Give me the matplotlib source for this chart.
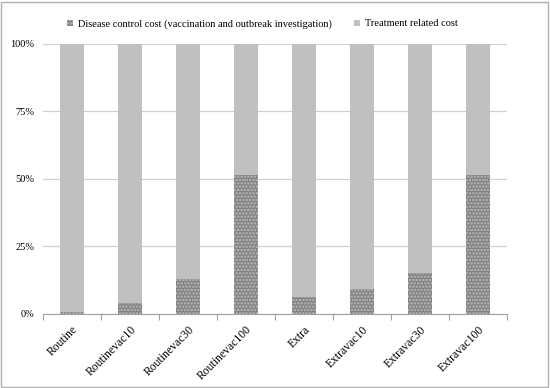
import matplotlib.pyplot as plt
import numpy as np
from matplotlib.patches import Rectangle

plt.rcParams['font.family'] = ['Liberation Serif', 'DejaVu Serif']
plt.rcParams['hatch.linewidth'] = 1.2

scenarios = ['Routine', 'Routinevac10', 'Routinevac30', 'Routinevac100',
             'Extra', 'Extravac10', 'Extravac30', 'Extravac100']
control = [0.8, 4.0, 13.0, 51.5, 6.4, 9.2, 15.1, 51.5]
treatment = [100 - c for c in control]

fig = plt.figure(figsize=(5.5, 3.88), dpi=100)
ax = fig.add_axes([0.078, 0.191, 0.844, 0.696])

x = np.arange(len(scenarios))
ax.bar(x, control, width=0.4, color='#808080', edgecolor='#bdbdbd', hatch='.....',
       linewidth=0, label='Disease control cost (vaccination and outbreak investigation)')
ax.bar(x, treatment, width=0.4, bottom=control, color='#c0c0c0', linewidth=0,
       label='Treatment related cost')

ax.set_xlim(-0.5, len(scenarios) - 0.5)
ax.set_ylim(0, 100)
ax.set_yticks([0, 25, 50, 75, 100])
ax.set_yticklabels(['0%', '25%', '50%', '75%', '100%'], fontsize=7.5)
ax.yaxis.grid(True, color='#d0d0d0', linewidth=0.9)
ax.set_axisbelow(True)
ax.tick_params(axis='y', length=0, pad=6)

ax.set_xticks(x)
ax.set_xticklabels(scenarios, rotation=45, ha='right', rotation_mode='anchor', fontsize=8.4)
ax.set_xticks(np.arange(-0.5, len(scenarios)), minor=True)
ax.tick_params(axis='x', which='major', length=0, pad=7)
ax.tick_params(axis='x', which='minor', length=4, color='#a0a0a0', width=0.8)

for s in ['top', 'right', 'left']:
    ax.spines[s].set_visible(False)
ax.spines['bottom'].set_color('#a0a0a0')

fig.legend(loc='upper center', bbox_to_anchor=(0.477, 0.975), ncol=2, frameon=False,
           fontsize=7.5, handlelength=0.55, handleheight=0.55, columnspacing=2.2,
           handletextpad=0.45)

fig.patches.append(Rectangle((0.002, 0.003), 0.995, 0.993, transform=fig.transFigure,
                             fill=False, edgecolor='#b0b0b0', linewidth=1))

fig.savefig('out.png', dpi=100)
